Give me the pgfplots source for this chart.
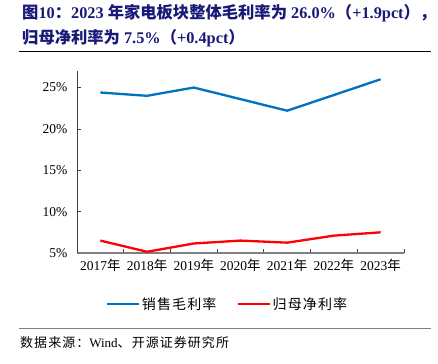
\documentclass[border=0pt]{standalone}
\usepackage{fontspec}
\setmainfont{Liberation Serif}
\newfontfamily\cjk{Noto Sans CJK SC}
\newfontfamily\cjksp{Noto Sans CJK SC}[LetterSpace=8]
\usepackage{pgfplots}
\pgfplotsset{compat=1.18}
\definecolor{titleblue}{RGB}{25,25,120}
\definecolor{lblue}{RGB}{0,112,192}
\definecolor{lred}{RGB}{255,0,0}
\definecolor{axgray}{RGB}{128,128,128}
\begin{document}
\begin{tikzpicture}
\useasboundingbox (0,0) rectangle (438bp,364bp);
% title
\node[anchor=base west,inner sep=0pt,text=titleblue] at (22bp,345bp) {\fontsize{16.3bp}{20bp}\selectfont\bfseries {\cjk\bfseries 图}10{\cjk\bfseries ：}2023 {\cjk\bfseries 年家电板块整体毛利率为} 26.0\%{\cjk\bfseries （}+1.9pct{\cjk\bfseries ），}};
\node[anchor=base west,inner sep=0pt,text=titleblue] at (22bp,320bp) {\fontsize{16.3bp}{20bp}\selectfont\bfseries {\cjk\bfseries 归母净利率为} 7.5\%{\cjk\bfseries （}+0.4pct{\cjk\bfseries ）}};
\draw[line width=1bp,black] (19bp,312bp) -- (431bp,312bp);
% source
\draw[line width=1bp,axgray] (19bp,35bp) -- (431bp,35bp);
\node[anchor=base west,inner sep=0pt] at (20bp,17bp) {\fontsize{13bp}{15bp}\selectfont {\cjksp 数据来源：}Wind{\cjksp 、开源证券研究所}};
\begin{axis}[
  at={(77bp,111bp)}, anchor=south west,
  scale only axis, width=327bp, height=182bp,
  xmin=-0.5, xmax=6.5, ymin=5, ymax=27,
  axis x line*=bottom, axis y line*=left,
  x axis line style={draw=axgray,line width=1.3bp,-},
  y axis line style={draw=black!75,line width=0.8bp,-},
  xtick={0,...,6},
  xticklabels={2017{\cjk 年},2018{\cjk 年},2019{\cjk 年},2020{\cjk 年},2021{\cjk 年},2022{\cjk 年},2023{\cjk 年}},
  major x tick style={draw=none},
  minor xtick={-0.5,0.5,...,6.5},
  minor x tick style={draw=black!75,line width=0.8bp},
  minor tick length=4bp,
  ytick={5,10,15,20,25},
  yticklabels={5\%,10\%,15\%,20\%,25\%},
  major y tick style={draw=black!75,line width=0.8bp},
  major tick length=4bp,
  tick align=inside,
  tick label style={font=\fontsize{13.5bp}{15bp}\selectfont},
  xticklabel style={yshift=-3bp},
  yticklabel style={xshift=-6bp},
  legend style={at={(0.46,-0.28)},anchor=center,draw=none,fill=none,
    legend columns=2,font=\fontsize{14bp}{16bp}\selectfont\cjksp,
    /tikz/every even column/.append style={column sep=18bp}},
  legend image code/.code={\draw[#1] (0bp,0bp) -- (32bp,0bp);},
]
\addplot[lblue,line width=2.3bp] coordinates {(0,24.4) (1,24.0) (2,25.0) (3,23.6) (4,22.2) (5,24.1) (6,26.0)};
\addlegendentry{销售毛利率}
\addplot[lred,line width=2.3bp] coordinates {(0,6.5) (1,5.15) (2,6.15) (3,6.5) (4,6.25) (5,7.1) (6,7.5)};
\addlegendentry{归母净利率}
\end{axis}
\end{tikzpicture}
\end{document}
